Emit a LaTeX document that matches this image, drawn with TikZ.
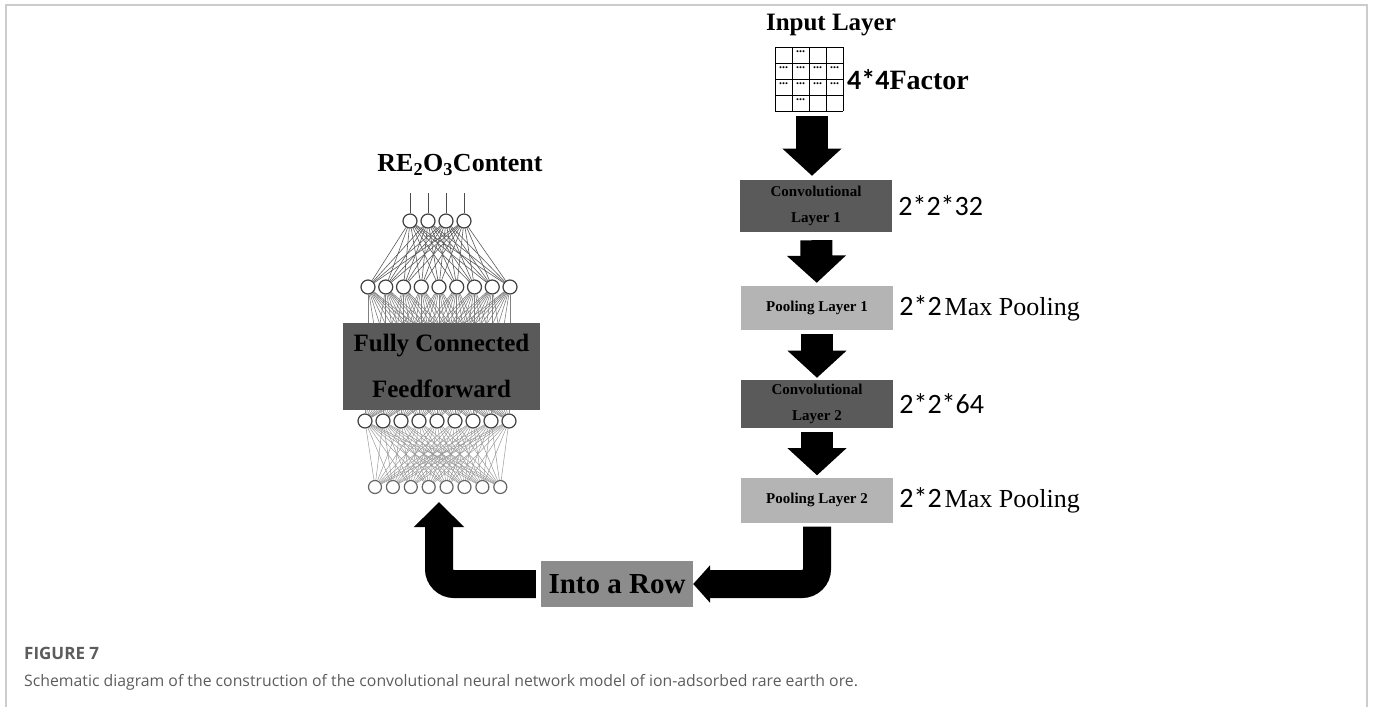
\documentclass[tikz,border=0pt]{standalone}
\usepackage{fontspec}
\setmainfont{Liberation Serif}
\newfontfamily\digitfont{Carlito}
\newfontfamily\captionfont{Open Sans}
\usetikzlibrary{arrows.meta,positioning,calc}

\definecolor{darkbox}{HTML}{5A5A5A}
\definecolor{lightbox}{HTML}{B4B4B4}
\definecolor{midbox}{HTML}{8C8C8C}
\definecolor{framegray}{HTML}{CCCCCC}
\definecolor{captiongray}{HTML}{5C5C5C}

\tikzset{
	layerbox/.style={minimum width=152pt, inner sep=0pt, align=center, text=black,
		font=\fontsize{15}{26}\selectfont\bfseries},
	blockarrow/.style={line width=32pt, -{Triangle[length=0pt 0.85, width=0pt 1.8]}},
	bendarrow/.style={line width=28pt, rounded corners=15pt},
	neuron/.style={circle, draw=black!75, fill=white, line width=1.2pt, minimum size=14pt, inner sep=0pt},
	synapse/.style={black!65, line width=0.6pt},
	sidelabel/.style={anchor=west, inner sep=0pt},
	celldots/.style={inner sep=0pt, font=\fontsize{12}{12}\selectfont\bfseries},
}

\begin{document}
\begin{tikzpicture}[x=1pt, y=-1pt]
	\useasboundingbox (0,0) rectangle (1373,707);
	\draw[framegray, line width=1.5pt] (6,707) -- (6,5) -- (1367,5) -- (1367,707);

% Input layer
\node (inputtitle) at (831,25) {\fontsize{25}{27}\selectfont\bfseries Input Layer};
\begin{scope}[line width=1pt]
	\foreach \i in {0,...,4}{
		\draw (775+17*\i, 47) -- ++(0, 64);
		\draw (775, 47+16*\i) -- ++(68, 0);
	}
\end{scope}
\foreach \c in {1,...,4}{
	\node[celldots] (dotb\c) at (766.5+17*\c, 68) {...};
	\node[celldots] (dotc\c) at (766.5+17*\c, 84) {...};
}
\node[celldots] (dota) at (800.5, 52) {...};
\node[celldots] (dotd) at (800.5, 100) {...};
\coordinate (gridbottom) at (812, 111);
\node[sidelabel] (factor) at (847,80) {\fontsize{28}{30}\selectfont\bfseries{\digitfont 4*4}Factor};

% Convolution and pooling stack
\node[layerbox, fill=darkbox, minimum height=52pt] (conv1) at (816,206) {Convolutional\\Layer 1};
\node[layerbox, fill=lightbox, minimum height=44pt] (pool1) at (817,308) {Pooling Layer 1};
\node[layerbox, fill=darkbox, minimum height=48pt] (conv2) at (817,404) {Convolutional\\Layer 2};
\node[layerbox, fill=lightbox, minimum height=45pt] (pool2) at (817,500) {Pooling Layer 2};

\node[sidelabel, right=6pt of conv1] (size1) {\fontsize{28}{30}\selectfont\digitfont 2*2*32};
\node[sidelabel, right=6pt of pool1] (maxp1) {\fontsize{26}{28}\selectfont{\digitfont\fontsize{28}{30}\selectfont 2*2}\hspace{3pt}Max Pooling};
\node[sidelabel, right=6pt of conv2] (size2) {\fontsize{28}{30}\selectfont\digitfont 2*2*64};
\node[sidelabel, right=6pt of pool2] (maxp2) {\fontsize{26}{28}\selectfont{\digitfont\fontsize{28}{30}\selectfont 2*2}\hspace{3pt}Max Pooling};

\draw[blockarrow, shorten <=5pt, shorten >=4pt] (gridbottom) -- (gridbottom |- conv1.north);
\draw[blockarrow, shorten <=8pt, shorten >=3pt] (conv1) -- (pool1);
\draw[blockarrow, shorten <=4pt, shorten >=2pt] (pool1) -- (conv2);
\draw[blockarrow, shorten <=4pt, shorten >=2pt] (conv2) -- (pool2);

% Flatten
\node[layerbox, fill=midbox, minimum height=46pt, font=\fontsize{29}{30}\selectfont\bfseries] (row) at (617,584) {Into a Row};
\draw[bendarrow, shorten <=4pt, -{Triangle[length=0pt 0.6, width=0pt 1.3]}] (pool2.south) |- (row.east);

% Fully connected network
\foreach \i in {1,...,4}{
	\node[neuron] (o\i) at (410+18*\i-18, 221) {};
	\coordinate (t\i) at (410+18*\i-18, 193);
	\draw[black!70, line width=0.8pt] (o\i) -- (t\i);
}
\foreach \i in {1,...,9}{
	\node[neuron] (h\i) at (368+17.75*\i-17.75, 287) {};
	\node[neuron] (g\i) at (365+18*\i-18, 421) {};
	\coordinate (zu\i) at (368+17.75*\i-17.75, 400);
	\coordinate (zl\i) at (365+18*\i-18, 340);
}
\foreach \i in {1,...,8}{
	\node[neuron, minimum size=13pt, draw=black!60] (b\i) at (375+17.9*\i-17.9, 487) {};
}
\foreach \i in {1,...,4}{
	\foreach \j in {1,...,9}{
		\draw[synapse] (o\i) -- (h\j);
	}
}
\foreach \i in {1,...,9}{
	\foreach \j in {1,...,9}{
		\draw[synapse, black!50] (h\i) -- (zu\j);
		\draw[synapse, black!45] (zl\j) -- (g\i);
	}
	\foreach \j in {1,...,8}{
		\draw[synapse, black!40, line width=0.5pt] (g\i) -- (b\j);
	}
}
\node[fill=darkbox, minimum width=197pt, minimum height=87pt, inner sep=0pt, align=center,
	font=\fontsize{25}{46}\selectfont\bfseries] (fc) at (441.5,366) {Fully Connected\\Feedforward};
\node (outtitle) at (460,165) {\fontsize{26}{28}\selectfont\bfseries RE\textsubscript{2}O\textsubscript{3}Content};

\coordinate (fcin) at (439,502);
\draw[bendarrow, shorten <=5pt, -{Triangle[length=0pt 0.9, width=0pt 1.75]}] (row.west) -| (fcin);

% Caption
\node[sidelabel, text=captiongray] (figno) at (24,653) {\captionfont\fontsize{17}{20}\selectfont\bfseries FIGURE 7};
\node[sidelabel, text=captiongray] (figcap) at (24,682) {\captionfont\fontsize{15.8}{18}\selectfont Schematic diagram of the construction of the convolutional neural network model of ion-adsorbed rare earth ore.};
\end{tikzpicture}
\end{document}
